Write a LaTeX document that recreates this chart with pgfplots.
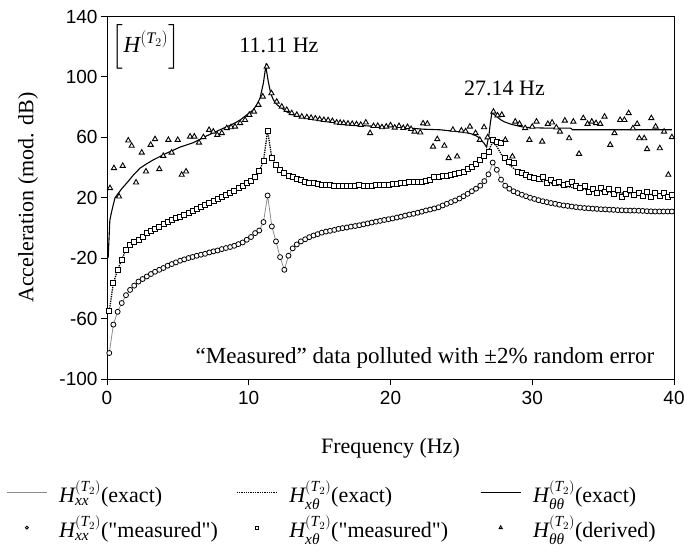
\documentclass[border=0pt]{standalone}
\usepackage{amsmath}
\usepackage{fontspec}
\setmainfont{Liberation Serif}
\setsansfont{Liberation Sans}
\newfontfamily\rawq[Ligatures=TeXOff]{Liberation Serif}
\usepackage{pgfplots}
\usepackage{pgfplotstable}
\pgfplotsset{compat=1.18}
\newcommand{\HT}[1]{$\textit{H}^{(\textit{T}_{2})}_{#1}$}
\newcommand{\qq}{{\rawq"}}
\pgfplotsset{
  legline/.style={legend image code/.code={\draw[##1] (0pt,0pt)--(40pt,0pt);}},
  legmark/.style={legend image code/.code={\draw[##1, mark size=#1] plot coordinates {(20pt,0pt)};}},
}

\pgfplotstableread{
f xx xt
0.16 -82.8 -55.2
0.45 -64 -36.5
0.75 -55.5 -27.7
1.04 -49.7 -21
1.34 -44.5 -14.4
1.63 -41 -11.1
1.92 -38.2 -9.4
2.22 -35.5 -7.8
2.51 -33.8 -5.6
2.81 -32.1 -3.4
3.10 -30.5 -1.9
3.39 -29 -0.7
3.69 -27.7 1.0
3.98 -26.5 2.6
4.28 -25 3.9
4.57 -23.9 5.4
4.86 -22.8 6.5
5.16 -21.7 7.6
5.45 -20.8 8.7
5.75 -19.9 10.2
6.04 -19.2 11.6
6.33 -18.4 12.7
6.63 -17.7 14.2
6.92 -17.1 15.3
7.22 -16.2 16.4
7.51 -15.5 18
7.80 -14.9 19.1
8.10 -14 20.4
8.39 -13.3 21.9
8.69 -12.6 23.5
8.98 -11.8 24.8
9.27 -10.7 26.4
9.57 -9.6 27.9
9.86 -7.8 29.7
10.16 -6 31.2
10.45 -3.4 34
10.74 -1.7 37.5
11.04 3.9 44.4
11.33 21.5 64.5
11.63 1 46.2
11.92 -8.9 41.8
12.21 -19.3 38.5
12.51 -27.7 36.3
12.80 -18.4 34.5
13.10 -13.5 33.6
13.39 -10.9 32.3
13.68 -8.9 31.5
13.98 -7.5 30.8
14.27 -6.1 30.1
14.57 -5 29.6
14.86 -4.1 29.2
15.15 -3.1 28.8
15.45 -2.4 28.6
15.74 -1.9 28.3
16.04 -1.3 28.1
16.33 -0.6 27.9
16.62 -0.1 27.9
16.92 0.3 27.8
17.21 0.9 27.8
17.51 1.3 27.9
17.80 1.8 28.6
18.09 2.4 27.9
18.39 3.0 28
18.68 3.6 28.1
18.98 4.2 28.2
19.27 4.7 28.4
19.56 5.3 28.6
19.86 5.8 28.8
20.15 6.3 29.1
20.45 6.9 29.4
20.74 7.5 29.7
21.03 8.2 30
21.33 8.9 30.2
21.62 9.4 30.4
21.92 10.1 30.6
22.21 10.8 30.8
22.50 11.6 31.2
22.80 12.2 31.6
23.09 12.9 34
23.39 13.7 33.8
23.68 14.9 34.6
23.97 16.0 34.5
24.27 17.1 35.3
24.56 18.2 35.8
24.86 19.5 36.6
25.15 21 37.4
25.44 22.6 38.8
25.74 24.3 40.7
26.03 26 42.5
26.33 28 45.1
26.62 31 47.5
26.91 35.5 50.6
27.21 43.3 58.3
27.50 38.5 57
27.80 32 56.5
28.09 28 46.2
28.38 26 44
28.68 24.3 43
28.97 23.1 37.4
29.27 22 36.3
29.56 21 35.2
29.85 20 34
30.15 19.2 33
30.44 18.4 32.8
30.74 17.7 34
31.03 17.1 29.7
31.32 16.5 31.6
31.62 16 30.1
31.91 15.4 30.5
32.21 14.9 28.6
32.50 14.6 29.4
32.79 14.2 30.2
33.09 13.8 28
33.38 13.5 26.4
33.68 13.2 27.9
33.97 13 24.1
34.26 12.8 26
34.56 12.6 23
34.85 12.4 26.8
35.15 12.3 24
35.44 12.1 25.7
35.73 12 22.4
36.03 11.8 25.2
36.32 11.7 20.8
36.62 11.6 22.8
36.91 11.5 24.9
37.20 11.5 22
37.50 11.4 23.5
37.79 11.3 21.2
38.09 11.1 24.2
38.38 11 20.8
38.67 10.9 23.3
38.97 10.9 21.5
39.26 10.9 23
39.56 10.9 20.5
39.85 10.9 21.9
}\dataMain

\pgfplotstableread{
f tt
0.21 26.4
0.49 39.6
0.85 20.8
1.11 41.1
1.5 57.9
1.74 54.4
2.05 30.1
2.45 49.9
2.75 37.4
3.08 55
3.39 58.8
3.69 39
3.97 47.7
4.33 58.3
4.56 49.9
4.99 58.3
5.27 35.2
5.58 37.4
5.86 60.5
6.16 60.5
6.49 56.5
6.8 60.1
7.2 64.9
7.5 63.8
7.78 61.6
8.1 62.8
8.45 66.1
8.75 66.7
9.03 67.1
9.39 69.4
9.74 71.5
10.04 74.9
10.37 77
10.68 81.5
10.99 87
11.27 106.8
11.6 89.2
11.97 83.6
12.33 80.3
12.68 78.2
13.03 76
13.39 74.9
13.74 73.7
14.1 73.3
14.4 72.9
14.7 72.5
15.0 72
15.3 71.5
15.6 71.3
15.9 70.8
16.2 69.8
16.45 69.6
16.7 69.4
17.0 69.1
17.3 68.9
17.6 68.7
17.9 68.3
18.26 69.8
18.56 62.8
18.8 67.5
19.1 67.6
19.4 66.7
19.7 67.1
20.0 68
20.3 66.4
20.6 67.5
20.9 66.2
21.2 66.8
21.45 65.5
21.7 63.8
22.1 63.2
22.3 69.2
22.6 69
23.0 53.9
23.3 58.8
23.8 54.4
24.1 46.2
24.4 65
24.7 47.3
25.0 64.5
25.3 64
25.6 67.1
26.0 62.8
26.3 58.3
26.6 66.7
26.85 60
27.26 77
27.55 74.5
27.85 74.9
28.1 58.3
28.6 47.3
28.8 70.4
29.1 68.9
29.5 66.1
29.8 58.3
30.0 67
30.3 70.4
30.7 57.2
31.1 68.9
31.4 69.8
31.7 66.5
31.95 63.8
32.3 71.1
32.6 59.4
32.9 70.4
33.3 49.1
33.6 72.7
33.9 68.9
34.2 70.4
34.5 69.4
34.8 68.9
35.1 73.7
35.5 55
35.8 62.8
36.2 71.5
36.5 71.5
36.8 76
37.1 66
37.4 68.9
37.55 59.4
37.9 59.4
38.1 52.2
38.4 72.7
38.7 67.1
39.0 52.8
39.3 63.8
39.6 35.2
39.85 60.1
}\dataTT

\pgfplotstableread{
f v
0.16 -55
0.45 -36.5
0.75 -27.7
1.04 -21
1.34 -14.4
1.63 -11.1
1.92 -9.2
2.22 -7.5
2.51 -5.6
3.10 -1.9
3.69 1.0
4.28 3.9
4.86 6.5
5.45 8.7
6.04 11.6
6.63 14.2
7.22 16.4
7.80 19.1
8.39 21.9
8.98 24.8
9.57 27.9
10.16 31.2
10.45 34
10.74 37.5
11.04 44.4
11.33 64.5
11.63 46.2
11.92 41.8
12.21 38.5
12.51 36.3
12.80 34.5
13.10 33.6
13.68 31.5
14.27 30.1
14.86 29.2
15.45 28.6
16.04 28.1
16.62 27.9
17.21 27.8
17.80 27.9
18.39 28
18.98 28.2
19.56 28.6
20.15 29.1
20.74 29.7
21.33 30.2
21.92 30.8
22.50 31.6
23.09 32.6
23.68 33.8
24.27 35.2
24.86 36.6
25.44 38.6
26.03 42
26.33 44.5
26.62 47.5
26.91 51
27.21 57
27.50 54
27.80 49
28.09 45
28.38 42
28.68 39.5
28.97 37.5
29.56 34.5
30.15 32.5
30.74 30.8
31.32 29.5
31.91 28.3
32.50 27.3
33.09 26.4
33.68 25.6
34.26 24.9
34.85 24.3
35.44 23.8
36.03 23.3
36.62 22.9
37.20 22.6
37.79 22.3
38.38 22.1
38.97 21.9
39.56 21.8
39.85 21.7
}\dataXTexact

\pgfplotstableread{
f v
0.08 -20
0.2 5
0.33 11
0.56 19.8
0.8 23
1.04 26
1.39 29.7
1.86 35
2.33 39.6
2.8 42.5
3.27 45.1
4.2 49.5
5.15 53.5
6.1 56.5
7.04 61
7.97 65
8.9 68.9
9.4 71.5
9.86 74.9
10.3 78
10.56 81.5
10.8 86
11.03 95.8
11.2 107
11.38 96.9
11.55 89
11.74 84.8
12.0 81.5
12.33 79.3
12.7 76.8
13.15 74.9
13.6 73.7
14.5 72
15.3 70.6
16.0 69.8
17.0 68.6
18.3 67.6
19.5 67.1
20.7 66.7
21.5 66
22.3 65.4
23.5 65
24.7 63.8
25.3 63.2
25.7 62.3
26.0 61.2
26.2 60.1
26.45 57.5
26.6 56.1
26.78 53.5
26.95 62
27.05 70
27.15 76
27.3 75.2
27.5 73.7
27.75 71.8
28.0 70.4
28.4 69
28.7 68.2
29.4 66.7
30.2 66.3
31.0 66.1
32.0 66.1
32.7 66.1
32.85 65
35.7 65
39.85 65
}\dataTTexact

\begin{document}
\begin{tikzpicture}
\useasboundingbox (-107pt,-173pt) rectangle (577pt,379pt);
\begin{axis}[
  at={(0pt,0pt)}, anchor=south west,
  scale only axis, width=567pt, height=362.5pt,
  xmin=0, xmax=40, ymin=-100, ymax=140,
  xtick={0,10,...,40}, ytick={-100,-60,...,140},
  tick align=outside, xtick pos=left, ytick pos=left,
  major tick length=6pt,
  every tick/.style={black, line width=0.9pt},
  axis line style={line width=0.9pt},
  ticklabel style={font=\fontsize{19}{19}\sffamily},
  xticklabel style={yshift=-3pt},
  /pgf/number format/assume math mode=true,
  xlabel={Frequency (Hz)}, ylabel={Acceleration (mod. dB)},
  label style={font=\fontsize{22}{24}\selectfont},
  xlabel style={at={(axis description cs:0.5,-0.19)}, anchor=center},
  ylabel style={at={(axis description cs:-0.139,0.5)}, anchor=center},
  clip=false,
  legend columns=3,
  legend cell align=left,
  legend style={draw=none, fill=none, at={(axis description cs:-0.183,-0.27)}, anchor=north west,
    font=\fontsize{22}{24}\selectfont, row sep=8pt,
    /tikz/every odd column/.append style={column sep=10pt},
    /tikz/every even column/.append style={column sep=16pt}},
]
\addplot[color=black!45, line width=0.8pt, legline]
  table[x=f,y=xx] {\dataMain};
\addlegendentry{\HT{\textit{xx}}(exact)}
\addplot[black, densely dotted, line width=1.3pt, legline]
  table[x=f,y=v] {\dataXTexact};
\addlegendentry{\HT{\textit{xθ}}(exact)}
\addplot[black, line width=1.1pt, legline]
  table[x=f,y=v] {\dataTTexact};
\addlegendentry{\HT{\textit{θθ}}(exact)}
\addplot[only marks, mark=*, mark size=2.5pt, mark options={draw=black, fill=white, line width=0.8pt}, legmark=1.5pt]
  table[x=f,y=xx] {\dataMain};
\addlegendentry{\HT{\textit{xx}}(\qq measured\qq)}
\addplot[only marks, mark=square*, mark size=2.5pt, mark options={draw=black, fill=white, line width=0.8pt}, legmark=1.5pt]
  table[x=f,y=xt] {\dataMain};
\addlegendentry{\HT{\textit{xθ}}(\qq measured\qq)\rule{14pt}{0pt}}
\addplot[only marks, mark=triangle*, mark size=3pt, mark options={draw=black, fill=white, line width=0.9pt}, legmark=1.8pt]
  table[x=f,y=tt] {\dataTT};
\addlegendentry{\HT{\textit{θθ}}(derived)}
\node[font=\fontsize{22}{24}\selectfont] at (axis cs:12.13,121.2) {11.11 Hz};
\node[font=\fontsize{22}{24}\selectfont] at (axis cs:28.04,92.4) {27.14 Hz};
\node[font=\fontsize{23}{24}\selectfont] at (axis cs:2.75,120.2) {$\Big[\textit{H}^{(\textit{T}_{2})}\Big]$};
\node[font=\fontsize{23}{25}\selectfont] at (axis cs:22.43,-85.9) {“Measured” data polluted with ±2\% random error};
\end{axis}
\end{tikzpicture}
\end{document}
